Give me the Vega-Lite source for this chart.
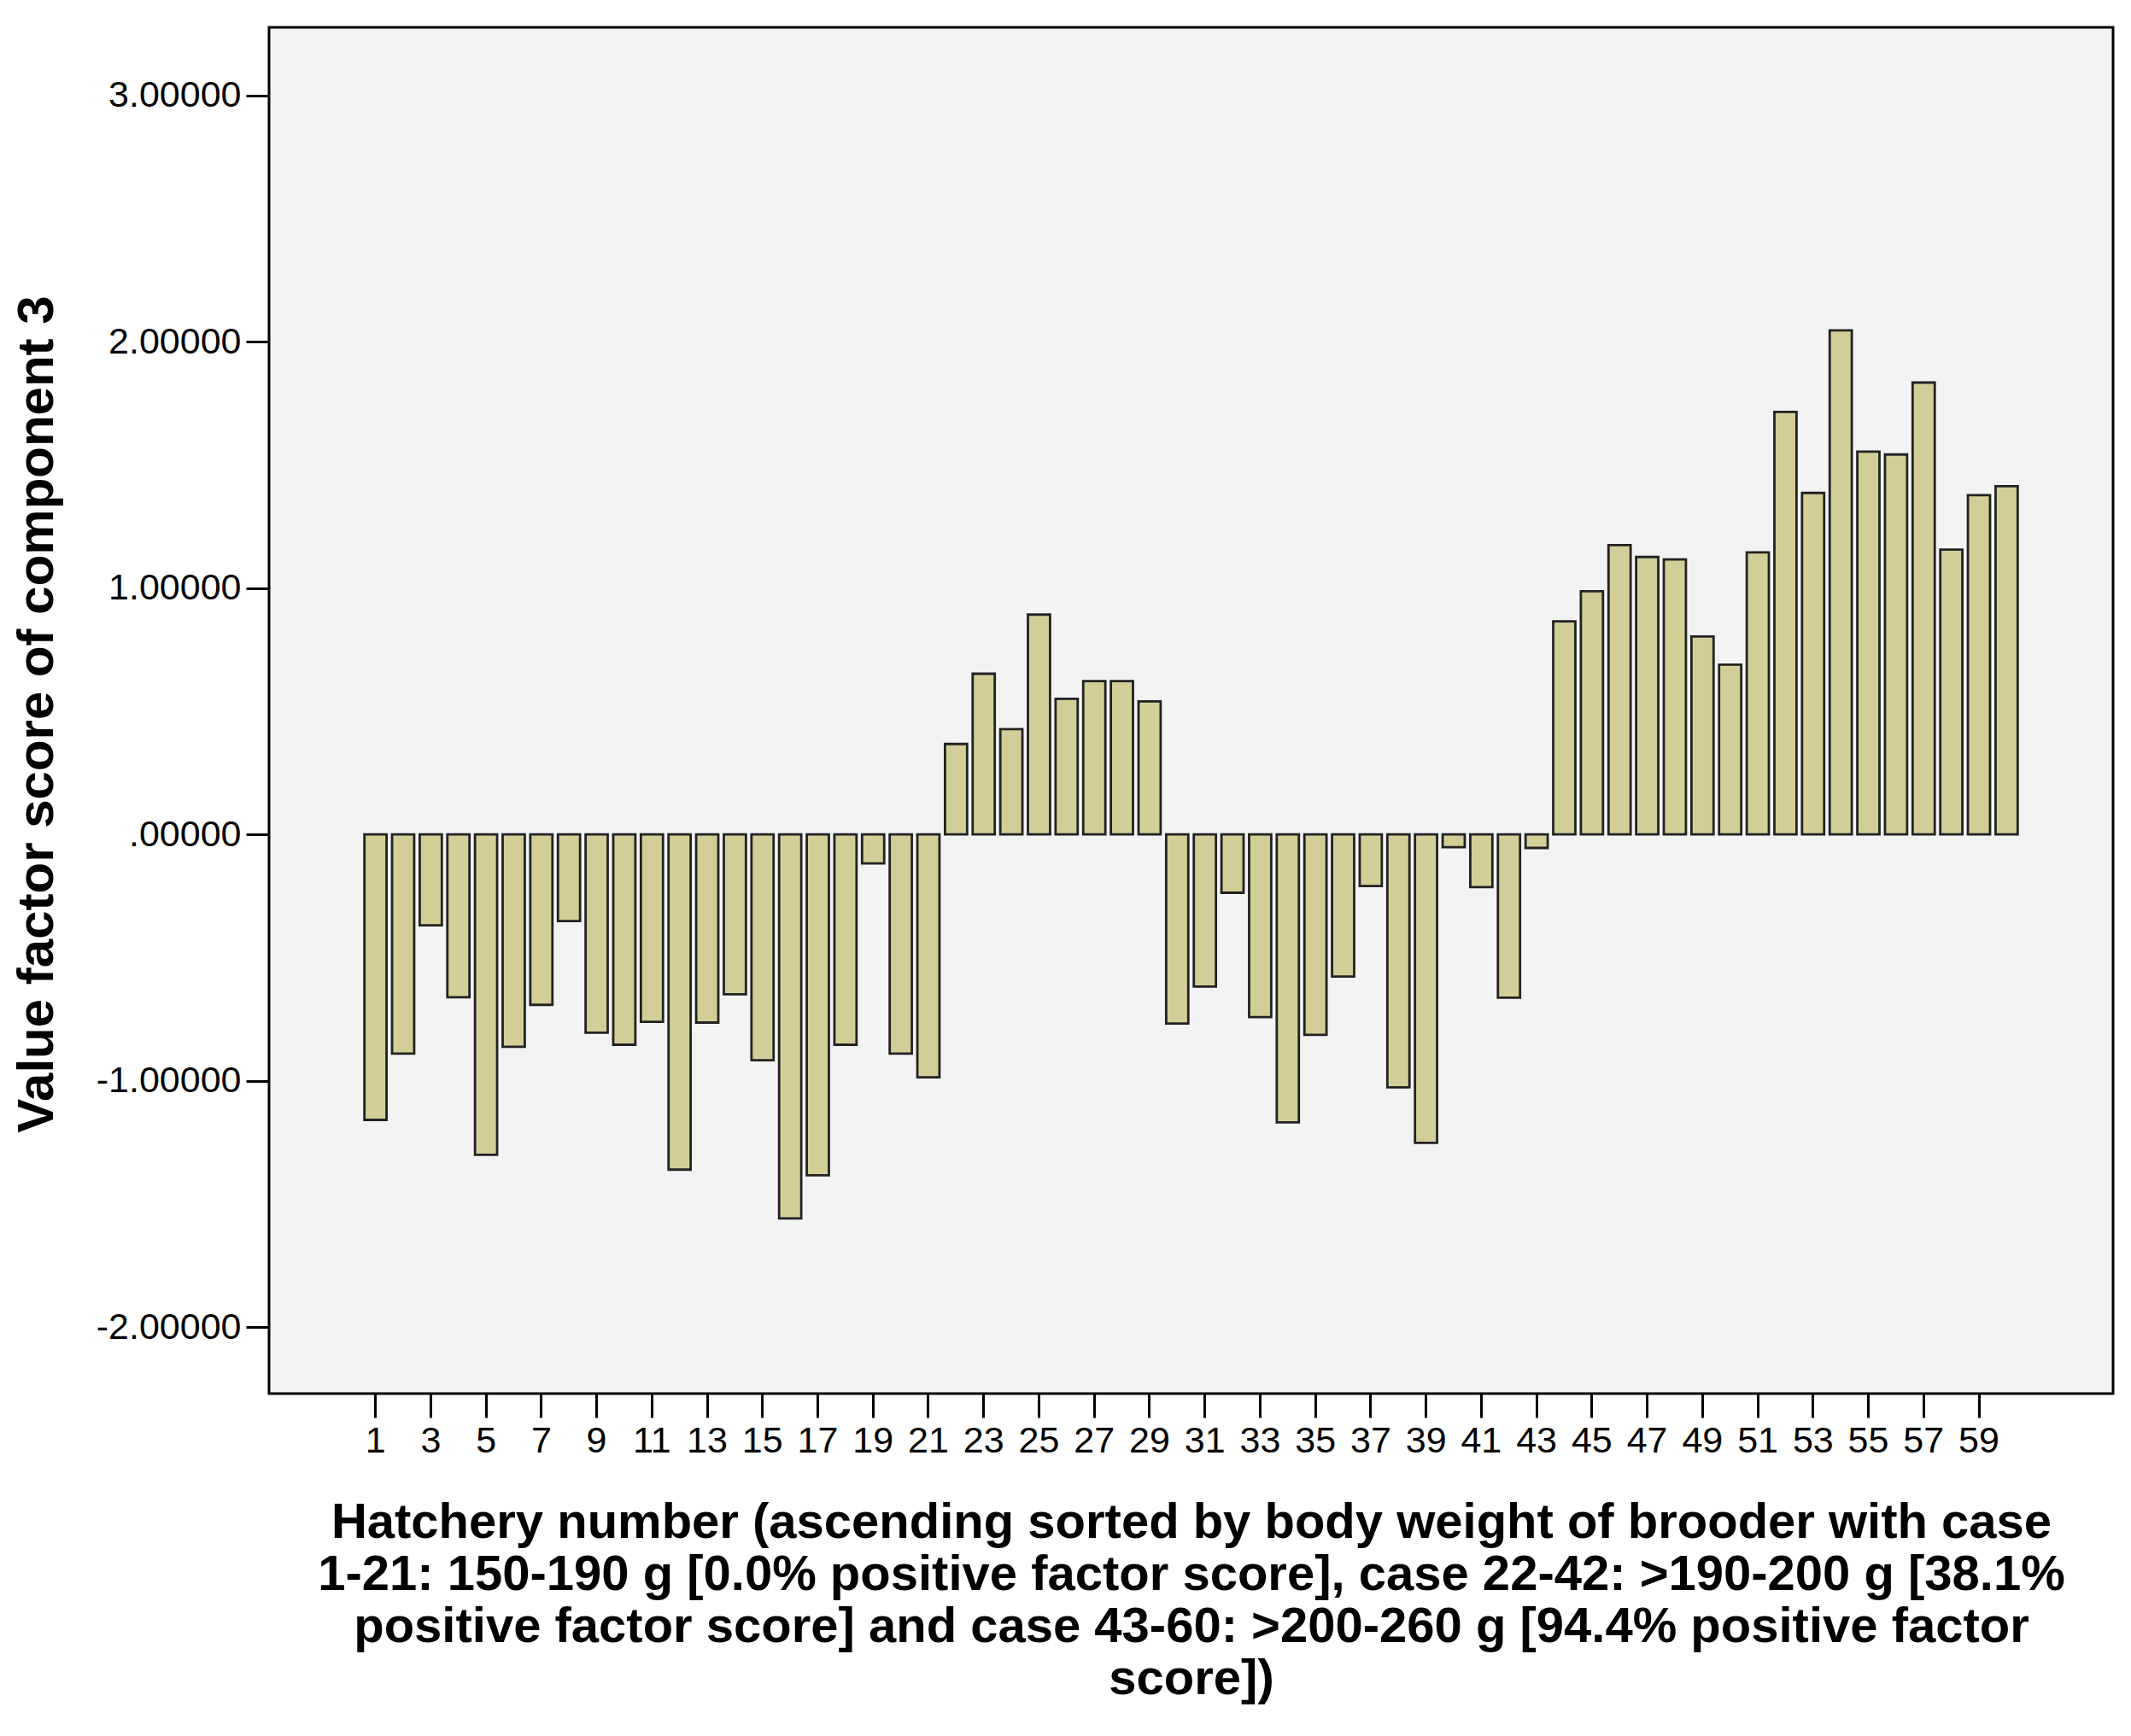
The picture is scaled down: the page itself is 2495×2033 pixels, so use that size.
{
  "$schema": "https://vega.github.io/schema/vega-lite/v6.json",
  "autosize": {"type": "none"},
  "width": 2159,
  "height": 1600,
  "padding": {"left": 315, "top": 32, "right": 21, "bottom": 401},
  "background": "white",
  "config": {
    "view": {"fill": "#f3f3f3", "stroke": "#000000", "strokeWidth": 3},
    "font": "Liberation Sans"
  },
  "data": {
    "values": [
      {"hatchery": 1, "score": -1.159},
      {"hatchery": 2, "score": -0.890},
      {"hatchery": 3, "score": -0.369},
      {"hatchery": 4, "score": -0.661},
      {"hatchery": 5, "score": -1.301},
      {"hatchery": 6, "score": -0.862},
      {"hatchery": 7, "score": -0.692},
      {"hatchery": 8, "score": -0.352},
      {"hatchery": 9, "score": -0.805},
      {"hatchery": 10, "score": -0.854},
      {"hatchery": 11, "score": -0.761},
      {"hatchery": 12, "score": -1.361},
      {"hatchery": 13, "score": -0.764},
      {"hatchery": 14, "score": -0.649},
      {"hatchery": 15, "score": -0.917},
      {"hatchery": 16, "score": -1.559},
      {"hatchery": 17, "score": -1.384},
      {"hatchery": 18, "score": -0.854},
      {"hatchery": 19, "score": -0.118},
      {"hatchery": 20, "score": -0.890},
      {"hatchery": 21, "score": -0.986},
      {"hatchery": 22, "score": 0.367},
      {"hatchery": 23, "score": 0.652},
      {"hatchery": 24, "score": 0.427},
      {"hatchery": 25, "score": 0.892},
      {"hatchery": 26, "score": 0.550},
      {"hatchery": 27, "score": 0.622},
      {"hatchery": 28, "score": 0.622},
      {"hatchery": 29, "score": 0.540},
      {"hatchery": 30, "score": -0.768},
      {"hatchery": 31, "score": -0.618},
      {"hatchery": 32, "score": -0.237},
      {"hatchery": 33, "score": -0.742},
      {"hatchery": 34, "score": -1.169},
      {"hatchery": 35, "score": -0.814},
      {"hatchery": 36, "score": -0.577},
      {"hatchery": 37, "score": -0.210},
      {"hatchery": 38, "score": -1.027},
      {"hatchery": 39, "score": -1.252},
      {"hatchery": 40, "score": -0.052},
      {"hatchery": 41, "score": -0.214},
      {"hatchery": 42, "score": -0.663},
      {"hatchery": 43, "score": -0.055},
      {"hatchery": 44, "score": 0.865},
      {"hatchery": 45, "score": 0.987},
      {"hatchery": 46, "score": 1.174},
      {"hatchery": 47, "score": 1.126},
      {"hatchery": 48, "score": 1.116},
      {"hatchery": 49, "score": 0.803},
      {"hatchery": 50, "score": 0.689},
      {"hatchery": 51, "score": 1.145},
      {"hatchery": 52, "score": 1.715},
      {"hatchery": 53, "score": 1.386},
      {"hatchery": 54, "score": 2.046},
      {"hatchery": 55, "score": 1.554},
      {"hatchery": 56, "score": 1.542},
      {"hatchery": 57, "score": 1.834},
      {"hatchery": 58, "score": 1.156},
      {"hatchery": 59, "score": 1.377},
      {"hatchery": 60, "score": 1.413}
    ]
  },
  "mark": {"type": "bar", "fill": "#d3ce97", "stroke": "#222222", "strokeWidth": 2.8},
  "encoding": {
    "x": {
      "field": "hatchery",
      "type": "ordinal",
      "scale": {
        "domain": [-2,-1,0,1,2,3,4,5,6,7,8,9,10,11,12,13,14,15,16,17,18,19,20,21,22,23,24,25,26,27,28,29,30,31,32,33,34,35,36,37,38,39,40,41,42,43,44,45,46,47,48,49,50,51,52,53,54,55,56,57,58,59,60,61,62,63],
        "paddingInner": 0.2,
        "paddingOuter": 0.45
      },
      "axis": {
        "values": [1,3,5,7,9,11,13,15,17,19,21,23,25,27,29,31,33,35,37,39,41,43,45,47,49,51,53,55,57,59],
        "labelAngle": 0,
        "domain": false,
        "grid": false,
        "ticks": true,
        "tickSize": 28,
        "tickWidth": 3,
        "tickColor": "#000000",
        "labelFontSize": 43,
        "labelColor": "#000000",
        "labelPadding": 6,
        "title": [
          "Hatchery number (ascending sorted by body weight of brooder with case",
          "1-21: 150-190 g [0.0% positive factor score], case 22-42: >190-200 g [38.1%",
          "positive factor score] and case 43-60: >200-260 g [94.4% positive factor",
          "score])"
        ],
        "titleFontSize": 58,
        "titleFontWeight": "bold",
        "titleLineHeight": 61,
        "titlePadding": 45,
        "titleColor": "#000000"
      }
    },
    "y": {
      "field": "score",
      "type": "quantitative",
      "scale": {"domain": [-2.27, 3.276], "nice": false, "zero": true},
      "axis": {
        "values": [-2, -1, 0, 1, 2, 3],
        "labelExpr": "datum.value == 0 ? '.00000' : datum.value + '.00000'",
        "grid": false,
        "domain": false,
        "tickSize": 27,
        "tickWidth": 3,
        "tickColor": "#000000",
        "labelFontSize": 43,
        "labelColor": "#000000",
        "labelPadding": 6,
        "title": "Value factor score of component 3",
        "titleFontSize": 60,
        "titleFontWeight": "bold",
        "titleColor": "#000000",
        "titleX": -272,
        "titleY": 804,
        "titleAngle": -90,
        "titleAlign": "center",
        "titleBaseline": "middle"
      }
    }
  }
}
